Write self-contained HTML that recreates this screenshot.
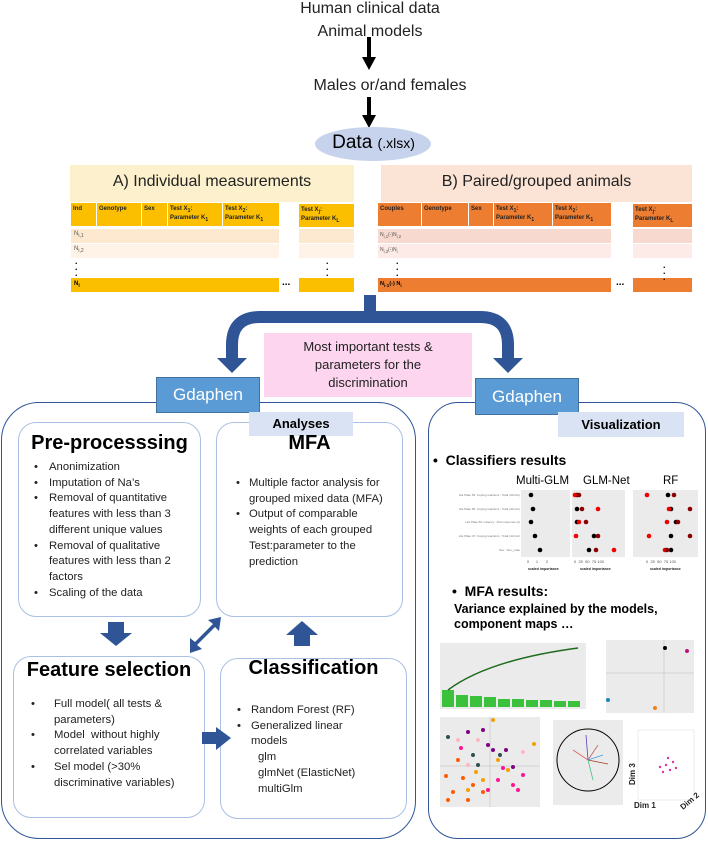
<!DOCTYPE html>
<html><head><meta charset="utf-8">
<style>
*{margin:0;padding:0;box-sizing:border-box}
body{width:708px;height:841px;background:#fff;position:relative;overflow:hidden;font-family:"Liberation Sans",sans-serif;color:#000}
.a{position:absolute}
.c{text-align:center}
.cell{position:absolute;font-size:6px;font-weight:bold;line-height:7px;padding:3px 2px;color:#222}
.rb{position:absolute;border:1px solid #a9c0e4;border-radius:18px;background:#fff}
.bl{position:absolute;font-size:11.3px;line-height:15.7px;color:#222}
.bl p{position:relative}
.bl p:before{content:"•";position:absolute;left:var(--b)}
.h{font-weight:bold;position:absolute;text-align:center}
</style></head><body>

<!-- top -->
<div class="a c" style="left:270px;top:0px;width:200px;font-size:16px;color:#222">Human clinical data</div>
<div class="a c" style="left:270px;top:23px;width:200px;font-size:16px;color:#222">Animal models</div>
<svg class="a" style="left:0;top:0" width="708" height="170">
<rect x="367" y="37" width="4" height="22" fill="#000"/><polygon points="362,57 376,57 369,70" fill="#000"/>
<rect x="367" y="97" width="4" height="20" fill="#000"/><polygon points="362,115 376,115 369,128" fill="#000"/>
<ellipse cx="373" cy="144" rx="58" ry="17" fill="#c7d3ec"/>
</svg>
<div class="a c" style="left:290px;top:77px;width:200px;font-size:16px;color:#222">Males or/and females</div>
<div class="a c" style="left:315px;top:132px;width:117px;font-size:19px">Data <span style="font-size:14px">(.xlsx)</span></div>

<!-- table A -->
<div class="a" style="left:70px;top:165px;width:284px;height:127px;background:#fdf0cc"></div>
<div class="a c" style="left:70px;top:173px;width:284px;font-size:16px;color:#222">A) Individual measurements</div>
<div class="a" style="left:70px;top:202px;width:284px;height:91px;background:#fff"></div>
<div class="cell" style="left:71px;top:203px;width:25px;height:23px;background:#fbbf00">Ind</div>
<div class="cell" style="left:97px;top:203px;width:44px;height:23px;background:#fbbf00">Genotype</div>
<div class="cell" style="left:142px;top:203px;width:25px;height:23px;background:#fbbf00">Sex</div>
<div class="cell" style="left:168px;top:203px;width:54px;height:23px;background:#fbbf00">Test X<sub>1</sub>:<br>Parameter K<sub>1</sub></div>
<div class="cell" style="left:223px;top:203px;width:56px;height:23px;background:#fbbf00">Test X<sub>2</sub>:<br>Parameter K<sub>1</sub></div>
<div class="cell" style="left:299px;top:204px;width:55px;height:23px;background:#fbbf00">Test X<sub>j</sub>:<br>Parameter K<sub>L</sub></div>
<div class="a" style="left:71px;top:229px;width:208px;height:14px;background:#fde9cf"></div>
<div class="a" style="left:299px;top:229px;width:55px;height:14px;background:#fde9cf"></div>
<div class="a" style="left:71px;top:244px;width:208px;height:14px;background:#fef3e6"></div>
<div class="a" style="left:299px;top:244px;width:55px;height:14px;background:#fef3e6"></div>
<div class="a" style="left:71px;top:278px;width:208px;height:14px;background:#fbbf00"></div>
<div class="a" style="left:299px;top:278px;width:55px;height:14px;background:#fbbf00"></div>
<div class="a" style="left:74px;top:231px;font-size:6px;color:#555">N<sub>i,1</sub></div>
<div class="a" style="left:74px;top:246px;font-size:6px;color:#555">N<sub>i,2</sub></div>
<div class="a" style="left:74px;top:281px;font-size:6px;font-weight:bold">N<sub>i</sub></div>
<div class="a" style="left:75px;top:258px;font-size:9px;line-height:6px;font-weight:bold">.<br>.<br>.</div>
<div class="a" style="left:326px;top:258px;font-size:9px;line-height:6px;font-weight:bold">.<br>.<br>.</div>
<div class="a" style="left:282px;top:277px;font-size:10px;font-weight:bold">...</div>

<!-- table B -->
<div class="a" style="left:381px;top:165px;width:311px;height:127px;background:#fbe3d6"></div>
<div class="a c" style="left:381px;top:173px;width:311px;font-size:16px;color:#222">B) Paired/grouped animals</div>
<div class="a" style="left:378px;top:202px;width:314px;height:91px;background:#fff"></div>
<div class="cell" style="left:378px;top:203px;width:43px;height:23px;background:#ed7d31">Couples</div>
<div class="cell" style="left:422px;top:203px;width:46px;height:23px;background:#ed7d31">Genotype</div>
<div class="cell" style="left:469px;top:203px;width:24px;height:23px;background:#ed7d31">Sex</div>
<div class="cell" style="left:494px;top:203px;width:58px;height:23px;background:#ed7d31">Test X<sub>1</sub>:<br>Parameter K<sub>1</sub></div>
<div class="cell" style="left:553px;top:203px;width:58px;height:23px;background:#ed7d31">Test X<sub>2</sub>:<br>Parameter K<sub>1</sub></div>
<div class="cell" style="left:633px;top:204px;width:59px;height:23px;background:#ed7d31">Test X<sub>j</sub>:<br>Parameter K<sub>L</sub></div>
<div class="a" style="left:378px;top:229px;width:233px;height:14px;background:#f8d9d0"></div>
<div class="a" style="left:633px;top:229px;width:59px;height:14px;background:#f8d9d0"></div>
<div class="a" style="left:378px;top:244px;width:233px;height:14px;background:#fcebe6"></div>
<div class="a" style="left:633px;top:244px;width:59px;height:14px;background:#fcebe6"></div>
<div class="a" style="left:378px;top:278px;width:233px;height:14px;background:#ed7d31"></div>
<div class="a" style="left:633px;top:278px;width:59px;height:14px;background:#ed7d31"></div>
<div class="a" style="left:380px;top:232px;font-size:5px;color:#555">N<sub>i,1</sub>(-)N<sub>i,2</sub></div>
<div class="a" style="left:380px;top:247px;font-size:5px;color:#555">N<sub>i,3</sub>(-)N<sub>i</sub></div>
<div class="a" style="left:380px;top:281px;font-size:5.5px;font-weight:bold">N<sub>i-1</sub>(-) N<sub>i</sub></div>
<div class="a" style="left:396px;top:258px;font-size:9px;line-height:6px;font-weight:bold">.<br>.<br>.</div>
<div class="a" style="left:663px;top:262px;font-size:9px;line-height:6px;font-weight:bold">.<br>.<br>.</div>
<div class="a" style="left:616px;top:277px;font-size:10px;font-weight:bold">...</div>

<!-- big split arrow -->
<svg class="a" style="left:0;top:290px" width="708" height="100">
<path d="M370 5 L370 27 L260 27 Q232 27 232 55 L232 70 M370 27 L480 27 Q508 27 508 55 L508 70" fill="none" stroke="#2f5597" stroke-width="12"/>
<polygon points="217,68 247,68 232,83" fill="#2f5597"/>
<polygon points="493,68 523,68 508,83" fill="#2f5597"/>
</svg>
<div class="a c" style="left:264px;top:333px;width:208px;height:64px;background:#fdd5ef;font-size:13px;line-height:18px;padding-top:5px;color:#222">Most important tests &amp;<br>parameters for the<br>discrimination</div>

<!-- left panel -->
<div class="a" style="left:1px;top:402px;width:415px;height:437px;border:1.5px solid #2f5597;border-radius:38px"></div>
<div class="a c" style="left:156px;top:377px;width:104px;height:36px;background:#5b9bd5;border:1px solid #41719c;color:#fff;font-size:17px;line-height:34px">Gdaphen</div>

<div class="rb" style="left:18px;top:422px;width:183px;height:195px"></div>
<div class="rb" style="left:216px;top:422px;width:187px;height:195px"></div>
<div class="a c" style="left:249px;top:412px;width:104px;height:24px;background:#dae3f3;font-weight:bold;font-size:13px;line-height:24px">Analyses</div>
<div class="h" style="left:18px;top:432px;width:183px;font-size:20px">Pre-processsing</div>
<div class="h" style="left:216px;top:432px;width:187px;font-size:20px">MFA</div>
<div class="bl" style="left:49px;top:460px;width:138px;--b:-15px">
<p>Anonimization</p>
<p>Imputation of Na’s</p>
<p>Removal of quantitative features with less than 3 different unique values</p>
<p>Removal of qualitative features with less than 2 factors</p>
<p>Scaling of the data</p>
</div>
<div class="bl" style="left:249px;top:476px;width:136px;--b:-13px">
<p>Multiple factor analysis for grouped mixed data (MFA)</p>
<p>Output of comparable weights of each grouped Test:parameter to the prediction</p>
</div>

<div class="rb" style="left:13px;top:656px;width:192px;height:162px"></div>
<div class="rb" style="left:220px;top:658px;width:187px;height:161px"></div>
<div class="h" style="left:13px;top:659px;width:192px;font-size:20px">Feature selection</div>
<div class="h" style="left:220px;top:657px;width:187px;font-size:20px">Classification</div>
<div class="bl" style="left:54px;top:697px;width:140px;--b:-23px">
<p>Full model( all tests &amp; parameters)</p>
<p>Model &nbsp;without highly correlated variables</p>
<p>Sel model (&gt;30% discriminative variables)</p>
</div>
<div class="bl" style="left:251px;top:703px;width:110px;--b:-14px">
<p>Random Forest (RF)</p>
<p>Generalized linear models</p>
<div style="padding-left:7px;white-space:nowrap">glm<br>glmNet (ElasticNet)<br>multiGlm</div>
</div>

<svg class="a" style="left:0;top:600px" width="420" height="160">
<polygon points="108,22 124,22 124,33 132,33 116,46 100,33 108,33" fill="#2f5597"/>
<polygon points="294,46 310,46 310,35 318,35 302,21 286,35 294,35" fill="#2f5597"/>
<polygon points="190,53 190,38 195,42 213,24 208,20 221,17 219,31 215,27 197,45 202,49" fill="#2f5597"/>
<polygon points="202,132 216,132 216,127 231,138 216,150 216,144 202,144" fill="#2f5597"/>
</svg>

<!-- right panel -->
<div class="a" style="left:428px;top:402px;width:278px;height:437px;border:1.5px solid #2f5597;border-radius:30px"></div>
<div class="a c" style="left:475px;top:378px;width:104px;height:37px;background:#5b9bd5;border:1px solid #41719c;color:#fff;font-size:17px;line-height:35px">Gdaphen</div>
<div class="a c" style="left:558px;top:412px;width:126px;height:25px;background:#dae3f3;font-weight:bold;font-size:13px;line-height:25px">Visualization</div>
<div class="a" style="left:433px;top:452px;font-weight:bold;font-size:14px">•&nbsp; Classifiers results</div>
<div class="a" style="left:516px;top:475px;font-size:11.5px">Multi-GLM</div>
<div class="a" style="left:583px;top:475px;font-size:11.5px">GLM-Net</div>
<div class="a" style="left:663px;top:475px;font-size:11.5px">RF</div>

<svg class="a" style="left:428px;top:488px" width="278" height="90" font-family="Liberation Sans">
<g font-size="3" fill="#777" text-anchor="end">
<text x="92" y="8">Hot Plate 54: Coping reactions : Total (nb/min)</text>
<text x="92" y="22">Hot Plate 50: Coping reactions : Total (nb/min)</text>
<text x="92" y="35">Hot Plate 50: Latency : First response (s)</text>
<text x="92" y="49">Hot Plate 47: Coping reactions : Total (nb/min)</text>
<text x="92" y="63">Sex : Sex_male</text>
</g>
<rect x="93" y="2" width="49" height="67" fill="#ebebeb"/>
<rect x="144" y="2" width="53" height="67" fill="#ebebeb"/>
<rect x="205" y="2" width="65" height="67" fill="#ebebeb"/>
<g fill="#000"><circle cx="103" cy="7" r="2.3"/><circle cx="105" cy="21" r="2.3"/><circle cx="103" cy="34" r="2.3"/><circle cx="107" cy="48" r="2.3"/><circle cx="112" cy="62" r="2.3"/>
<circle cx="149" cy="7" r="2.3"/><circle cx="149" cy="21" r="2.3"/><circle cx="149" cy="34" r="2.3"/><circle cx="166" cy="48" r="2.3"/><circle cx="161" cy="62" r="2.3"/>
<circle cx="240" cy="7" r="2.3"/><circle cx="243" cy="21" r="2.3"/><circle cx="248" cy="34" r="2.3"/><circle cx="243" cy="48" r="2.3"/><circle cx="243" cy="62" r="2.3"/></g>
<g fill="#e00"><circle cx="147" cy="7" r="2.3"/><circle cx="170" cy="21" r="2.3"/><circle cx="151" cy="34" r="2.3"/><circle cx="148" cy="48" r="2.3"/><circle cx="186" cy="62" r="2.3"/>
<circle cx="219" cy="7" r="2.3"/><circle cx="241" cy="21" r="2.3"/><circle cx="239" cy="34" r="2.3"/><circle cx="221" cy="48" r="2.3"/><circle cx="237" cy="62" r="2.3"/></g>
<g fill="#8b0000"><circle cx="151" cy="7" r="2.3"/><circle cx="154" cy="21" r="2.3"/><circle cx="158" cy="34" r="2.3"/><circle cx="170" cy="48" r="2.3"/><circle cx="168" cy="62" r="2.3"/>
<circle cx="246" cy="7" r="2.3"/><circle cx="262" cy="21" r="2.3"/><circle cx="250" cy="34" r="2.3"/><circle cx="262" cy="48" r="2.3"/><circle cx="239" cy="62" r="2.3"/></g>
<g font-size="4" fill="#555"><text x="99" y="75">0 &#160;&#160;&#160;&#160;&#160;1 &#160;&#160;&#160;&#160;&#160;&#160;2</text><text x="146" y="75">0 &#160;25 &#160;50 &#160;75 100</text><text x="218" y="75">0 &#160;25 &#160;50 &#160;75 100</text></g>
<g font-size="3.5" font-weight="bold" fill="#222"><text x="100" y="82">scaled importance</text><text x="152" y="82">scaled importance</text><text x="222" y="82">scaled importance</text></g>
</svg>

<div class="a" style="left:452px;top:583px;font-weight:bold;font-size:14px">•&nbsp; MFA results:</div>
<div class="a" style="left:454px;top:602px;font-weight:bold;font-size:12.5px;line-height:15px">Variance explained by the models,<br>component maps …</div>

<svg class="a" style="left:428px;top:640px" width="278" height="200" font-family="Liberation Sans">
<rect x="12" y="3" width="146" height="66" fill="#ebebeb"/>
<g fill="#3cc13c"><rect x="14" y="50" width="12" height="17"/><rect x="28" y="55" width="12" height="12"/><rect x="42" y="56" width="12" height="11"/><rect x="56" y="57" width="12" height="10"/><rect x="70" y="59" width="12" height="8"/><rect x="84" y="59" width="12" height="8"/><rect x="98" y="60" width="12" height="7"/><rect x="112" y="60" width="12" height="7"/><rect x="126" y="61" width="12" height="6"/><rect x="140" y="61" width="12" height="6"/></g>
<path d="M20 50 Q60 20 150 8" fill="none" stroke="#1e6b1e" stroke-width="1.5"/>
<rect x="178" y="0" width="88" height="73" fill="#ebebeb"/>
<line x1="178" y1="33" x2="266" y2="33" stroke="#bbb" stroke-width=".5"/><line x1="236" y1="0" x2="236" y2="73" stroke="#bbb" stroke-width=".5"/>
<circle cx="237" cy="8" r="2" fill="#000"/><circle cx="259" cy="11" r="2" fill="#c0137d"/><circle cx="180" cy="60" r="2" fill="#1a8aba"/><circle cx="227" cy="68" r="2" fill="#f08020"/>
<rect x="12" y="77" width="100" height="90" fill="#ebebeb"/>
<line x1="12" y1="126" x2="112" y2="126" stroke="#bbb" stroke-width=".5"/><line x1="62" y1="77" x2="62" y2="167" stroke="#bbb" stroke-width=".5"/>
<g fill="#f5a000"><circle cx="65" cy="80" r="2"/><circle cx="106" cy="104" r="2"/><circle cx="55" cy="140" r="2"/><circle cx="48" cy="132" r="2"/><circle cx="70" cy="120" r="2"/><circle cx="40" cy="150" r="2"/><circle cx="80" cy="130" r="2"/></g>
<g fill="#ff5a00"><circle cx="18" cy="136" r="2"/><circle cx="25" cy="152" r="2"/><circle cx="35" cy="138" r="2"/><circle cx="30" cy="120" r="2"/><circle cx="45" cy="145" r="2"/><circle cx="55" cy="152" r="2"/><circle cx="20" cy="160" r="2"/><circle cx="40" cy="160" r="2"/></g>
<g fill="#ff1493"><circle cx="70" cy="140" r="2"/><circle cx="85" cy="145" r="2"/><circle cx="95" cy="135" r="2"/><circle cx="75" cy="128" r="2"/><circle cx="60" cy="150" r="2"/><circle cx="90" cy="150" r="2"/><circle cx="33" cy="108" r="2"/></g>
<g fill="#800080"><circle cx="55" cy="90" r="2"/><circle cx="40" cy="92" r="2"/><circle cx="78" cy="110" r="2"/><circle cx="60" cy="105" r="2"/><circle cx="85" cy="127" r="2"/><circle cx="65" cy="110" r="2"/></g>
<g fill="#2f4f4f"><circle cx="20" cy="97" r="2"/><circle cx="45" cy="115" r="2"/><circle cx="50" cy="125" r="2"/><circle cx="72" cy="115" r="2"/></g>
<g fill="#ffb6c1"><circle cx="30" cy="100" r="2"/><circle cx="95" cy="112" r="2"/><circle cx="50" cy="100" r="2"/><circle cx="40" cy="125" r="2"/></g>
<rect x="125" y="80" width="70" height="85" fill="#ebebeb"/>
<circle cx="160" cy="120" r="31" fill="none" stroke="#000" stroke-width="1"/>
<g stroke-width=".8"><line x1="160" y1="120" x2="158" y2="95" stroke="#6040c0"/><line x1="160" y1="120" x2="180" y2="124" stroke="#a04020"/><line x1="160" y1="120" x2="145" y2="110" stroke="#e06060"/><line x1="160" y1="120" x2="170" y2="105" stroke="#c06060"/><line x1="160" y1="120" x2="165" y2="140" stroke="#40c080"/><line x1="160" y1="120" x2="175" y2="115" stroke="#40a0e0"/></g>
<rect x="210" y="90" width="56" height="70" fill="none" stroke="#ddd" stroke-width=".5"/>
<g fill="#e0309a"><circle cx="238" cy="125" r="1.2"/><circle cx="242" cy="130" r="1.2"/><circle cx="235" cy="132" r="1.2"/><circle cx="245" cy="122" r="1.2"/><circle cx="240" cy="118" r="1.2"/><circle cx="232" cy="127" r="1.2"/><circle cx="248" cy="128" r="1.2"/></g>
<g font-size="8" font-weight="bold" fill="#222"><text x="206" y="168">Dim 1</text><text x="207" y="145" transform="rotate(-90 207 145)">Dim 3</text><text x="255" y="170" transform="rotate(-40 255 170)">Dim 2</text></g>
</svg>
</body></html>
